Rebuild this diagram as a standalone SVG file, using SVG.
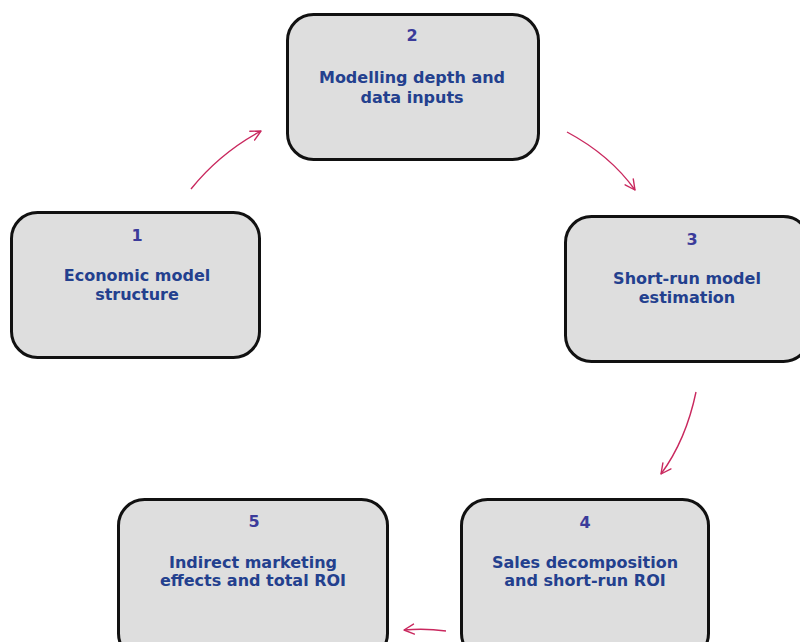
<svg xmlns="http://www.w3.org/2000/svg" width="800" height="642" viewBox="0 0 800 642">
<defs>
<marker id="ah" viewBox="0 0 12 12" refX="11" refY="6" markerWidth="12" markerHeight="12" markerUnits="userSpaceOnUse" orient="auto">
<path d="M1,1 L11,6 L1,11" fill="none" stroke="#c9285e" stroke-width="1.4" stroke-linecap="round" stroke-linejoin="round"/>
</marker>
</defs>
<style>
.box{fill:#dedede;stroke:#111;stroke-width:3}
.num{font-family:"DejaVu Sans",Verdana,sans-serif;font-weight:bold;font-size:16px;fill:#3b3b9a;text-anchor:middle}
.lbl{font-family:"DejaVu Sans",Verdana,sans-serif;font-weight:bold;font-size:16px;fill:#23408e;text-anchor:middle}
.arr{fill:none;stroke:#c9285e;stroke-width:1.4;marker-end:url(#ah)}
</style>
<rect width="800" height="642" fill="#fff"/>
<g id="node1">
<rect class="box" x="11.5" y="212.5" width="248" height="145" rx="26"/>
<text class="num" x="137" y="241">1</text>
<text class="lbl" x="137" y="281">Economic model</text>
<text class="lbl" x="137" y="300">structure</text>
</g>
<g id="node2">
<rect class="box" x="287.5" y="14.5" width="251" height="145" rx="26"/>
<text class="num" x="412" y="41">2</text>
<text class="lbl" x="412" y="83">Modelling depth and</text>
<text class="lbl" x="412" y="103">data inputs</text>
</g>
<g id="node3">
<rect class="box" x="565.5" y="216.5" width="244" height="145" rx="26"/>
<text class="num" x="692" y="245">3</text>
<text class="lbl" x="687" y="284">Short-run model</text>
<text class="lbl" x="687" y="303">estimation</text>
</g>
<g id="node4">
<rect class="box" x="461.5" y="499.5" width="247" height="160" rx="26"/>
<text class="num" x="585" y="528">4</text>
<text class="lbl" x="585" y="568">Sales decomposition</text>
<text class="lbl" x="585" y="586">and short-run ROI</text>
</g>
<g id="node5">
<rect class="box" x="118.5" y="499.5" width="269" height="160" rx="26"/>
<text class="num" x="254" y="527">5</text>
<text class="lbl" x="253" y="568">Indirect marketing</text>
<text class="lbl" x="253" y="586">effects and total ROI</text>
</g>
<g id="connectors">
<path class="arr" d="M191,189 Q220,153 261,131"/>
<path class="arr" d="M567,132 Q610,155 635,190"/>
<path class="arr" d="M696,392 Q686,440 661,474"/>
<path class="arr" d="M446,631 Q425,628 404,630"/>
</g>
</svg>
